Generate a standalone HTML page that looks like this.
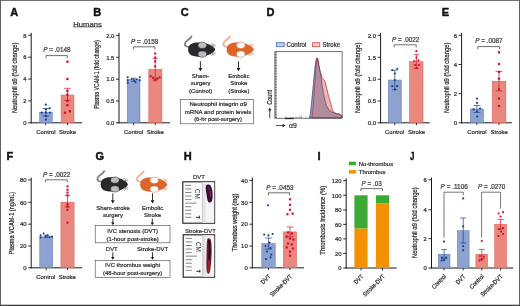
<!DOCTYPE html>
<html lang="en"><head><meta charset="utf-8"><title>Figure</title>
<style>html,body{margin:0;padding:0;background:#fff;}body{width:520px;height:306px;overflow:hidden;}svg{display:block;font-family:"Liberation Sans",sans-serif;}</style>
</head><body>
<svg width="520" height="306" viewBox="0 0 520 306">
<rect x="0" y="0" width="520" height="306" fill="#ffffff"/>
<text transform="translate(10.30,12.20) scale(1.0,1)" x="0" y="3.94" font-size="11" text-anchor="start" fill="#111" stroke="#111" stroke-width="0.45" font-weight="bold">A</text>
<text transform="translate(93.30,12.20) scale(1.0,1)" x="0" y="3.94" font-size="11" text-anchor="start" fill="#111" stroke="#111" stroke-width="0.45" font-weight="bold">B</text>
<text transform="translate(180.80,12.20) scale(1.0,1)" x="0" y="3.94" font-size="11" text-anchor="start" fill="#111" stroke="#111" stroke-width="0.45" font-weight="bold">C</text>
<text transform="translate(266.50,12.20) scale(1.0,1)" x="0" y="3.94" font-size="11" text-anchor="start" fill="#111" stroke="#111" stroke-width="0.45" font-weight="bold">D</text>
<text transform="translate(441.80,12.20) scale(1.0,1)" x="0" y="3.94" font-size="11" text-anchor="start" fill="#111" stroke="#111" stroke-width="0.45" font-weight="bold">E</text>
<text transform="translate(6.60,156.20) scale(1.0,1)" x="0" y="3.94" font-size="11" text-anchor="start" fill="#111" stroke="#111" stroke-width="0.45" font-weight="bold">F</text>
<text transform="translate(95.50,156.20) scale(1.0,1)" x="0" y="3.94" font-size="11" text-anchor="start" fill="#111" stroke="#111" stroke-width="0.45" font-weight="bold">G</text>
<text transform="translate(183.80,156.20) scale(1.0,1)" x="0" y="3.94" font-size="11" text-anchor="start" fill="#111" stroke="#111" stroke-width="0.45" font-weight="bold">H</text>
<text transform="translate(317.60,156.20) scale(1.0,1)" x="0" y="3.94" font-size="11" text-anchor="start" fill="#111" stroke="#111" stroke-width="0.45" font-weight="bold">I</text>
<text transform="translate(410.00,156.20) scale(0.72,1)" x="0" y="3.94" font-size="11" text-anchor="start" fill="#111" stroke="#111" stroke-width="0.45" font-weight="bold">J</text>
<text transform="translate(87.50,24.00) scale(1,1)" x="0" y="2.79" font-size="7.8" text-anchor="middle" fill="#333" stroke="#333" stroke-width="0.22" textLength="28.4" lengthAdjust="spacingAndGlyphs">Humans</text>
<line x1="73.20" y1="26.90" x2="102.00" y2="26.90" stroke="#333" stroke-width="0.6" stroke-linecap="butt"/>
<line x1="31.20" y1="32.80" x2="31.20" y2="123.30" stroke="#1a1a1a" stroke-width="1.0" stroke-linecap="butt"/>
<line x1="30.70" y1="122.80" x2="82.00" y2="122.80" stroke="#1a1a1a" stroke-width="1.0" stroke-linecap="butt"/>
<line x1="28.20" y1="35.30" x2="31.20" y2="35.30" stroke="#1a1a1a" stroke-width="0.9" stroke-linecap="butt"/>
<text transform="translate(26.60,35.30) scale(0.96,1)" x="0" y="2.22" font-size="6.2" text-anchor="end" fill="#2b2b2b" stroke="#2b2b2b" stroke-width="0.22">8</text>
<line x1="28.20" y1="57.20" x2="31.20" y2="57.20" stroke="#1a1a1a" stroke-width="0.9" stroke-linecap="butt"/>
<text transform="translate(26.60,57.20) scale(0.96,1)" x="0" y="2.22" font-size="6.2" text-anchor="end" fill="#2b2b2b" stroke="#2b2b2b" stroke-width="0.22">6</text>
<line x1="28.20" y1="79.10" x2="31.20" y2="79.10" stroke="#1a1a1a" stroke-width="0.9" stroke-linecap="butt"/>
<text transform="translate(26.60,79.10) scale(0.96,1)" x="0" y="2.22" font-size="6.2" text-anchor="end" fill="#2b2b2b" stroke="#2b2b2b" stroke-width="0.22">4</text>
<line x1="28.20" y1="100.90" x2="31.20" y2="100.90" stroke="#1a1a1a" stroke-width="0.9" stroke-linecap="butt"/>
<text transform="translate(26.60,100.90) scale(0.96,1)" x="0" y="2.22" font-size="6.2" text-anchor="end" fill="#2b2b2b" stroke="#2b2b2b" stroke-width="0.22">2</text>
<line x1="28.20" y1="122.80" x2="31.20" y2="122.80" stroke="#1a1a1a" stroke-width="0.9" stroke-linecap="butt"/>
<text transform="translate(26.60,122.80) scale(0.96,1)" x="0" y="2.22" font-size="6.2" text-anchor="end" fill="#2b2b2b" stroke="#2b2b2b" stroke-width="0.22">0</text>
<line x1="45.60" y1="122.80" x2="45.60" y2="125.20" stroke="#1a1a1a" stroke-width="0.9" stroke-linecap="butt"/>
<line x1="67.50" y1="122.80" x2="67.50" y2="125.20" stroke="#1a1a1a" stroke-width="0.9" stroke-linecap="butt"/>
<text transform="translate(14.80,77.80) rotate(-90) scale(1,1)" x="0" y="2.51" font-size="7.0" text-anchor="middle" fill="#2b2b2b" stroke="#2b2b2b" stroke-width="0.22" textLength="70.6" lengthAdjust="spacingAndGlyphs">Neutrophil α9 (fold change)</text>
<rect x="39.70" y="112.40" width="12.60" height="10.40" fill="#8ea2cf" stroke="#5877b8" stroke-width="0.5"/>
<rect x="61.10" y="95.00" width="12.90" height="27.80" fill="#e9897d" stroke="#de5a52" stroke-width="0.5"/>
<line x1="45.90" y1="108.60" x2="45.90" y2="116.00" stroke="#1d4190" stroke-width="0.7" stroke-linecap="butt"/>
<line x1="42.50" y1="108.60" x2="49.30" y2="108.60" stroke="#1d4190" stroke-width="0.7" stroke-linecap="butt"/>
<line x1="42.50" y1="116.00" x2="49.30" y2="116.00" stroke="#1d4190" stroke-width="0.7" stroke-linecap="butt"/>
<line x1="67.50" y1="88.30" x2="67.50" y2="100.30" stroke="#cf1233" stroke-width="0.7" stroke-linecap="butt"/>
<line x1="64.10" y1="88.30" x2="70.90" y2="88.30" stroke="#cf1233" stroke-width="0.7" stroke-linecap="butt"/>
<line x1="64.10" y1="100.30" x2="70.90" y2="100.30" stroke="#cf1233" stroke-width="0.7" stroke-linecap="butt"/>
<circle cx="45.80" cy="104.60" r="1.15" fill="#1d4190"/>
<circle cx="49.70" cy="108.30" r="1.15" fill="#1d4190"/>
<circle cx="45.80" cy="109.20" r="1.15" fill="#1d4190"/>
<circle cx="41.80" cy="112.60" r="1.15" fill="#1d4190"/>
<circle cx="46.00" cy="112.40" r="1.15" fill="#1d4190"/>
<circle cx="50.00" cy="112.60" r="1.15" fill="#1d4190"/>
<circle cx="46.00" cy="116.20" r="1.15" fill="#1d4190"/>
<circle cx="46.00" cy="119.60" r="1.15" fill="#1d4190"/>
<rect x="66.25" y="60.55" width="2.3" height="2.3" fill="#cf1233"/>
<rect x="66.25" y="77.85" width="2.3" height="2.3" fill="#cf1233"/>
<rect x="66.25" y="89.75" width="2.3" height="2.3" fill="#cf1233"/>
<rect x="66.25" y="93.45" width="2.3" height="2.3" fill="#cf1233"/>
<rect x="66.25" y="99.85" width="2.3" height="2.3" fill="#cf1233"/>
<rect x="66.25" y="104.05" width="2.3" height="2.3" fill="#cf1233"/>
<rect x="68.65" y="110.05" width="2.3" height="2.3" fill="#cf1233"/>
<rect x="63.85" y="111.55" width="2.3" height="2.3" fill="#cf1233"/>
<path d="M46.00,58.20 V55.60 H67.30 V58.20" fill="none" stroke="#333" stroke-width="0.7"/>
<text transform="translate(56.80,50.20) scale(1,1)" x="0" y="2.29" font-size="6.4" text-anchor="middle" fill="#3a3a3a" stroke="#3a3a3a" stroke-width="0.22" textLength="27.3" lengthAdjust="spacingAndGlyphs"><tspan font-style="italic">P</tspan> = .0148</text>
<text transform="translate(45.90,131.80) scale(0.96,1)" x="0" y="2.22" font-size="6.2" text-anchor="middle" fill="#2b2b2b" stroke="#2b2b2b" stroke-width="0.22">Control</text>
<text transform="translate(67.50,131.80) scale(0.96,1)" x="0" y="2.22" font-size="6.2" text-anchor="middle" fill="#2b2b2b" stroke="#2b2b2b" stroke-width="0.22">Stroke</text>
<line x1="119.00" y1="32.80" x2="119.00" y2="123.30" stroke="#1a1a1a" stroke-width="1.0" stroke-linecap="butt"/>
<line x1="118.50" y1="122.80" x2="170.00" y2="122.80" stroke="#1a1a1a" stroke-width="1.0" stroke-linecap="butt"/>
<line x1="116.00" y1="35.40" x2="119.00" y2="35.40" stroke="#1a1a1a" stroke-width="0.9" stroke-linecap="butt"/>
<text transform="translate(114.40,35.40) scale(0.96,1)" x="0" y="2.22" font-size="6.2" text-anchor="end" fill="#2b2b2b" stroke="#2b2b2b" stroke-width="0.22">2.0</text>
<line x1="116.00" y1="57.30" x2="119.00" y2="57.30" stroke="#1a1a1a" stroke-width="0.9" stroke-linecap="butt"/>
<text transform="translate(114.40,57.30) scale(0.96,1)" x="0" y="2.22" font-size="6.2" text-anchor="end" fill="#2b2b2b" stroke="#2b2b2b" stroke-width="0.22">1.5</text>
<line x1="116.00" y1="79.20" x2="119.00" y2="79.20" stroke="#1a1a1a" stroke-width="0.9" stroke-linecap="butt"/>
<text transform="translate(114.40,79.20) scale(0.96,1)" x="0" y="2.22" font-size="6.2" text-anchor="end" fill="#2b2b2b" stroke="#2b2b2b" stroke-width="0.22">1.0</text>
<line x1="116.00" y1="101.00" x2="119.00" y2="101.00" stroke="#1a1a1a" stroke-width="0.9" stroke-linecap="butt"/>
<text transform="translate(114.40,101.00) scale(0.96,1)" x="0" y="2.22" font-size="6.2" text-anchor="end" fill="#2b2b2b" stroke="#2b2b2b" stroke-width="0.22">0.5</text>
<line x1="116.00" y1="122.80" x2="119.00" y2="122.80" stroke="#1a1a1a" stroke-width="0.9" stroke-linecap="butt"/>
<text transform="translate(114.40,122.80) scale(0.96,1)" x="0" y="2.22" font-size="6.2" text-anchor="end" fill="#2b2b2b" stroke="#2b2b2b" stroke-width="0.22">0.0</text>
<line x1="133.60" y1="122.80" x2="133.60" y2="125.20" stroke="#1a1a1a" stroke-width="0.9" stroke-linecap="butt"/>
<line x1="155.30" y1="122.80" x2="155.30" y2="125.20" stroke="#1a1a1a" stroke-width="0.9" stroke-linecap="butt"/>
<text transform="translate(96.80,74.60) rotate(-90) scale(1,1)" x="0" y="2.33" font-size="6.5" text-anchor="middle" fill="#2b2b2b" stroke="#2b2b2b" stroke-width="0.22" textLength="68.5" lengthAdjust="spacingAndGlyphs">Plasma VCAM-1 (fold change)</text>
<rect x="127.20" y="79.60" width="12.80" height="43.20" fill="#8ea2cf" stroke="#5877b8" stroke-width="0.5"/>
<rect x="148.80" y="69.30" width="13.10" height="53.50" fill="#e9897d" stroke="#de5a52" stroke-width="0.5"/>
<line x1="133.60" y1="78.20" x2="133.60" y2="81.40" stroke="#1d4190" stroke-width="0.7" stroke-linecap="butt"/>
<line x1="131.20" y1="78.20" x2="136.00" y2="78.20" stroke="#1d4190" stroke-width="0.7" stroke-linecap="butt"/>
<line x1="131.20" y1="81.40" x2="136.00" y2="81.40" stroke="#1d4190" stroke-width="0.7" stroke-linecap="butt"/>
<line x1="155.20" y1="58.40" x2="155.20" y2="80.00" stroke="#cf1233" stroke-width="0.7" stroke-linecap="butt"/>
<line x1="152.60" y1="58.40" x2="157.80" y2="58.40" stroke="#cf1233" stroke-width="0.7" stroke-linecap="butt"/>
<line x1="152.60" y1="80.00" x2="157.80" y2="80.00" stroke="#cf1233" stroke-width="0.7" stroke-linecap="butt"/>
<circle cx="127.70" cy="77.30" r="1.05" fill="#1d4190"/>
<circle cx="127.70" cy="80.20" r="1.05" fill="#1d4190"/>
<circle cx="127.70" cy="82.90" r="1.05" fill="#1d4190"/>
<circle cx="139.80" cy="77.30" r="1.05" fill="#1d4190"/>
<circle cx="139.80" cy="80.20" r="1.05" fill="#1d4190"/>
<circle cx="131.80" cy="79.00" r="1.05" fill="#1d4190"/>
<circle cx="134.40" cy="80.80" r="1.05" fill="#1d4190"/>
<circle cx="136.60" cy="79.20" r="1.05" fill="#1d4190"/>
<circle cx="135.60" cy="82.20" r="1.05" fill="#1d4190"/>
<rect x="154.15" y="52.45" width="2.1" height="2.1" fill="#cf1233"/>
<rect x="154.15" y="56.45" width="2.1" height="2.1" fill="#cf1233"/>
<rect x="154.15" y="60.35" width="2.1" height="2.1" fill="#cf1233"/>
<rect x="154.15" y="65.35" width="2.1" height="2.1" fill="#cf1233"/>
<rect x="149.55" y="75.25" width="2.1" height="2.1" fill="#cf1233"/>
<rect x="158.65" y="76.45" width="2.1" height="2.1" fill="#cf1233"/>
<rect x="152.15" y="76.75" width="2.1" height="2.1" fill="#cf1233"/>
<rect x="156.15" y="77.55" width="2.1" height="2.1" fill="#cf1233"/>
<rect x="154.15" y="79.15" width="2.1" height="2.1" fill="#cf1233"/>
<path d="M133.60,49.40 V46.80 H154.80 V49.40" fill="none" stroke="#333" stroke-width="0.7"/>
<text transform="translate(144.60,41.60) scale(1,1)" x="0" y="2.29" font-size="6.4" text-anchor="middle" fill="#3a3a3a" stroke="#3a3a3a" stroke-width="0.22" textLength="27.3" lengthAdjust="spacingAndGlyphs"><tspan font-style="italic">P</tspan> = .0159</text>
<text transform="translate(133.60,131.80) scale(0.96,1)" x="0" y="2.22" font-size="6.2" text-anchor="middle" fill="#2b2b2b" stroke="#2b2b2b" stroke-width="0.22">Control</text>
<text transform="translate(155.30,131.80) scale(0.96,1)" x="0" y="2.22" font-size="6.2" text-anchor="middle" fill="#2b2b2b" stroke="#2b2b2b" stroke-width="0.22">Stroke</text>
<path d="M189.70,47.00 C187.20,46.80 184.10,46.40 185.10,43.20 C186.10,40.00 190.30,39.60 191.50,36.40" fill="none" stroke="#858588" stroke-width="1.9" stroke-linecap="round"/><path d="M188.10,49.60 C188.10,42.20 196.70,42.00 202.70,42.80 C208.20,43.60 214.10,46.20 215.30,49.60 C214.10,53.00 208.20,55.60 202.70,56.40 C196.70,57.20 188.10,57.00 188.10,49.60 Z" fill="#29292b"/><ellipse cx="202.30" cy="45.30" rx="4.3" ry="3.1" fill="#bdbdbf" stroke="#29292b" stroke-width="0.5"/><ellipse cx="202.30" cy="54.10" rx="4.3" ry="3.1" fill="#bdbdbf" stroke="#29292b" stroke-width="0.5"/><path d="M211.90,46.40 l3.4,-1.80 M211.90,46.40 l2.4,-3.00 M211.90,46.40 l4.0,-0.40" stroke="#666" stroke-width="0.45" fill="none"/><circle cx="211.70" cy="44.60" r="1.0" fill="#fff" stroke="#666" stroke-width="0.45"/><path d="M211.90,52.80 l3.4,1.80 M211.90,52.80 l2.4,3.00 M211.90,52.80 l4.0,0.40" stroke="#666" stroke-width="0.45" fill="none"/><circle cx="211.70" cy="54.60" r="1.0" fill="#fff" stroke="#666" stroke-width="0.45"/>
<path d="M228.20,47.00 C225.70,46.80 222.60,46.40 223.60,43.20 C224.60,40.00 228.80,39.60 230.00,36.40" fill="none" stroke="#f0b596" stroke-width="1.9" stroke-linecap="round"/><path d="M226.60,49.60 C226.60,42.20 235.20,42.00 241.20,42.80 C246.70,43.60 252.60,46.20 253.80,49.60 C252.60,53.00 246.70,55.60 241.20,56.40 C235.20,57.20 226.60,57.00 226.60,49.60 Z" fill="#dc652b"/><ellipse cx="240.80" cy="45.30" rx="4.3" ry="3.1" fill="#ffffff" stroke="#dc652b" stroke-width="0.5"/><ellipse cx="240.80" cy="54.10" rx="4.3" ry="3.1" fill="#ffffff" stroke="#dc652b" stroke-width="0.5"/><path d="M250.40,46.40 l3.4,-1.80 M250.40,46.40 l2.4,-3.00 M250.40,46.40 l4.0,-0.40" stroke="#e58a5a" stroke-width="0.45" fill="none"/><circle cx="250.20" cy="44.60" r="1.0" fill="#fff" stroke="#e58a5a" stroke-width="0.45"/><path d="M250.40,52.80 l3.4,1.80 M250.40,52.80 l2.4,3.00 M250.40,52.80 l4.0,0.40" stroke="#e58a5a" stroke-width="0.45" fill="none"/><circle cx="250.20" cy="54.60" r="1.0" fill="#fff" stroke="#e58a5a" stroke-width="0.45"/>
<line x1="200.40" y1="61.20" x2="200.40" y2="68.60" stroke="#1a1a1a" stroke-width="0.9" stroke-linecap="butt"/>
<path d="M198.50,68.10 L202.30,68.10 L200.40,71.30 Z" fill="#1a1a1a"/>
<line x1="238.50" y1="61.20" x2="238.50" y2="68.60" stroke="#1a1a1a" stroke-width="0.9" stroke-linecap="butt"/>
<path d="M236.60,68.10 L240.40,68.10 L238.50,71.30 Z" fill="#1a1a1a"/>
<text transform="translate(200.60,75.40) scale(0.96,1)" x="0" y="2.22" font-size="6.2" text-anchor="middle" fill="#2b2b2b" stroke="#2b2b2b" stroke-width="0.22">Sham-</text>
<text transform="translate(200.60,82.80) scale(0.96,1)" x="0" y="2.22" font-size="6.2" text-anchor="middle" fill="#2b2b2b" stroke="#2b2b2b" stroke-width="0.22">surgery</text>
<text transform="translate(200.60,90.30) scale(0.96,1)" x="0" y="2.22" font-size="6.2" text-anchor="middle" fill="#2b2b2b" stroke="#2b2b2b" stroke-width="0.22">(Control)</text>
<text transform="translate(238.80,75.40) scale(0.96,1)" x="0" y="2.22" font-size="6.2" text-anchor="middle" fill="#2b2b2b" stroke="#2b2b2b" stroke-width="0.22">Embolic</text>
<text transform="translate(238.80,82.80) scale(0.96,1)" x="0" y="2.22" font-size="6.2" text-anchor="middle" fill="#2b2b2b" stroke="#2b2b2b" stroke-width="0.22">Stroke</text>
<text transform="translate(238.80,90.30) scale(0.96,1)" x="0" y="2.22" font-size="6.2" text-anchor="middle" fill="#2b2b2b" stroke="#2b2b2b" stroke-width="0.22">(Stroke)</text>
<rect x="180.30" y="99.50" width="73.30" height="24.30" fill="#fff" stroke="#444" stroke-width="0.6"/>
<text transform="translate(218.20,104.20) scale(1,1)" x="0" y="2.22" font-size="6.2" text-anchor="middle" fill="#2b2b2b" stroke="#2b2b2b" stroke-width="0.22" textLength="57.4" lengthAdjust="spacingAndGlyphs">Neutrophil integrin α9</text>
<text transform="translate(218.00,111.70) scale(1,1)" x="0" y="2.22" font-size="6.2" text-anchor="middle" fill="#2b2b2b" stroke="#2b2b2b" stroke-width="0.22" textLength="66.4" lengthAdjust="spacingAndGlyphs">mRNA and protein levels</text>
<text transform="translate(218.00,119.20) scale(1,1)" x="0" y="2.22" font-size="6.2" text-anchor="middle" fill="#2b2b2b" stroke="#2b2b2b" stroke-width="0.22" textLength="47.6" lengthAdjust="spacingAndGlyphs">(6-hr post-surgery)</text>
<rect x="276.40" y="42.70" width="7.80" height="4.00" fill="#c3cee9" stroke="#4a6db8" stroke-width="0.8"/>
<text transform="translate(286.60,44.60) scale(1,1)" x="0" y="2.43" font-size="6.8" text-anchor="start" fill="#2b2b2b" stroke="#2b2b2b" stroke-width="0.22" textLength="19.6" lengthAdjust="spacingAndGlyphs">Control</text>
<rect x="312.40" y="42.70" width="7.40" height="4.00" fill="#f8c9c8" stroke="#dc4a52" stroke-width="0.8"/>
<text transform="translate(322.60,44.60) scale(1,1)" x="0" y="2.43" font-size="6.8" text-anchor="start" fill="#2b2b2b" stroke="#2b2b2b" stroke-width="0.22" textLength="17.4" lengthAdjust="spacingAndGlyphs">Stroke</text>
<rect x="274.90" y="51.70" width="67.20" height="66.50" fill="#fff" stroke="#333" stroke-width="0.7"/>
<line x1="275.10" y1="52.80" x2="276.80" y2="52.80" stroke="#222" stroke-width="0.7" stroke-linecap="butt"/>
<line x1="275.10" y1="54.38" x2="276.80" y2="54.38" stroke="#222" stroke-width="0.7" stroke-linecap="butt"/>
<line x1="275.10" y1="55.96" x2="276.80" y2="55.96" stroke="#222" stroke-width="0.7" stroke-linecap="butt"/>
<line x1="275.10" y1="57.54" x2="276.80" y2="57.54" stroke="#222" stroke-width="0.7" stroke-linecap="butt"/>
<line x1="275.10" y1="59.12" x2="276.80" y2="59.12" stroke="#222" stroke-width="0.7" stroke-linecap="butt"/>
<line x1="275.10" y1="60.70" x2="276.80" y2="60.70" stroke="#222" stroke-width="0.7" stroke-linecap="butt"/>
<line x1="275.10" y1="62.28" x2="276.80" y2="62.28" stroke="#222" stroke-width="0.7" stroke-linecap="butt"/>
<line x1="275.10" y1="63.86" x2="276.80" y2="63.86" stroke="#222" stroke-width="0.7" stroke-linecap="butt"/>
<line x1="275.10" y1="65.44" x2="276.80" y2="65.44" stroke="#222" stroke-width="0.7" stroke-linecap="butt"/>
<line x1="275.10" y1="67.02" x2="276.80" y2="67.02" stroke="#222" stroke-width="0.7" stroke-linecap="butt"/>
<line x1="275.10" y1="68.60" x2="276.80" y2="68.60" stroke="#222" stroke-width="0.7" stroke-linecap="butt"/>
<line x1="275.10" y1="70.18" x2="276.80" y2="70.18" stroke="#222" stroke-width="0.7" stroke-linecap="butt"/>
<line x1="275.10" y1="71.76" x2="276.80" y2="71.76" stroke="#222" stroke-width="0.7" stroke-linecap="butt"/>
<line x1="275.10" y1="73.34" x2="276.80" y2="73.34" stroke="#222" stroke-width="0.7" stroke-linecap="butt"/>
<line x1="275.10" y1="74.92" x2="276.80" y2="74.92" stroke="#222" stroke-width="0.7" stroke-linecap="butt"/>
<line x1="275.10" y1="76.50" x2="276.80" y2="76.50" stroke="#222" stroke-width="0.7" stroke-linecap="butt"/>
<line x1="275.10" y1="78.08" x2="276.80" y2="78.08" stroke="#222" stroke-width="0.7" stroke-linecap="butt"/>
<line x1="275.10" y1="79.66" x2="276.80" y2="79.66" stroke="#222" stroke-width="0.7" stroke-linecap="butt"/>
<line x1="275.10" y1="81.24" x2="276.80" y2="81.24" stroke="#222" stroke-width="0.7" stroke-linecap="butt"/>
<line x1="275.10" y1="82.82" x2="276.80" y2="82.82" stroke="#222" stroke-width="0.7" stroke-linecap="butt"/>
<line x1="275.10" y1="84.40" x2="276.80" y2="84.40" stroke="#222" stroke-width="0.7" stroke-linecap="butt"/>
<line x1="275.10" y1="85.98" x2="276.80" y2="85.98" stroke="#222" stroke-width="0.7" stroke-linecap="butt"/>
<line x1="275.10" y1="87.56" x2="276.80" y2="87.56" stroke="#222" stroke-width="0.7" stroke-linecap="butt"/>
<line x1="275.10" y1="89.14" x2="276.80" y2="89.14" stroke="#222" stroke-width="0.7" stroke-linecap="butt"/>
<line x1="275.10" y1="90.72" x2="276.80" y2="90.72" stroke="#222" stroke-width="0.7" stroke-linecap="butt"/>
<line x1="275.10" y1="92.30" x2="276.80" y2="92.30" stroke="#222" stroke-width="0.7" stroke-linecap="butt"/>
<line x1="275.10" y1="93.88" x2="276.80" y2="93.88" stroke="#222" stroke-width="0.7" stroke-linecap="butt"/>
<line x1="275.10" y1="95.46" x2="276.80" y2="95.46" stroke="#222" stroke-width="0.7" stroke-linecap="butt"/>
<line x1="275.10" y1="97.04" x2="276.80" y2="97.04" stroke="#222" stroke-width="0.7" stroke-linecap="butt"/>
<line x1="275.10" y1="98.62" x2="276.80" y2="98.62" stroke="#222" stroke-width="0.7" stroke-linecap="butt"/>
<line x1="275.10" y1="100.20" x2="276.80" y2="100.20" stroke="#222" stroke-width="0.7" stroke-linecap="butt"/>
<line x1="275.10" y1="101.78" x2="276.80" y2="101.78" stroke="#222" stroke-width="0.7" stroke-linecap="butt"/>
<line x1="275.10" y1="103.36" x2="276.80" y2="103.36" stroke="#222" stroke-width="0.7" stroke-linecap="butt"/>
<line x1="275.10" y1="104.94" x2="276.80" y2="104.94" stroke="#222" stroke-width="0.7" stroke-linecap="butt"/>
<line x1="275.10" y1="106.52" x2="276.80" y2="106.52" stroke="#222" stroke-width="0.7" stroke-linecap="butt"/>
<line x1="275.10" y1="108.10" x2="276.80" y2="108.10" stroke="#222" stroke-width="0.7" stroke-linecap="butt"/>
<line x1="275.10" y1="109.68" x2="276.80" y2="109.68" stroke="#222" stroke-width="0.7" stroke-linecap="butt"/>
<line x1="275.10" y1="111.26" x2="276.80" y2="111.26" stroke="#222" stroke-width="0.7" stroke-linecap="butt"/>
<line x1="275.10" y1="112.84" x2="276.80" y2="112.84" stroke="#222" stroke-width="0.7" stroke-linecap="butt"/>
<line x1="275.10" y1="114.42" x2="276.80" y2="114.42" stroke="#222" stroke-width="0.7" stroke-linecap="butt"/>
<line x1="275.10" y1="116.00" x2="276.80" y2="116.00" stroke="#222" stroke-width="0.7" stroke-linecap="butt"/>
<line x1="275.10" y1="117.58" x2="276.80" y2="117.58" stroke="#222" stroke-width="0.7" stroke-linecap="butt"/>
<line x1="286.00" y1="118.00" x2="286.00" y2="115.80" stroke="#444" stroke-width="0.4" stroke-linecap="butt"/>
<line x1="290.67" y1="118.00" x2="290.67" y2="116.80" stroke="#444" stroke-width="0.4" stroke-linecap="butt"/>
<line x1="293.40" y1="118.00" x2="293.40" y2="116.80" stroke="#444" stroke-width="0.4" stroke-linecap="butt"/>
<line x1="295.33" y1="118.00" x2="295.33" y2="116.80" stroke="#444" stroke-width="0.4" stroke-linecap="butt"/>
<line x1="296.83" y1="118.00" x2="296.83" y2="116.80" stroke="#444" stroke-width="0.4" stroke-linecap="butt"/>
<line x1="298.06" y1="118.00" x2="298.06" y2="116.80" stroke="#444" stroke-width="0.4" stroke-linecap="butt"/>
<line x1="299.10" y1="118.00" x2="299.10" y2="116.80" stroke="#444" stroke-width="0.4" stroke-linecap="butt"/>
<line x1="300.00" y1="118.00" x2="300.00" y2="116.80" stroke="#444" stroke-width="0.4" stroke-linecap="butt"/>
<line x1="300.79" y1="118.00" x2="300.79" y2="116.80" stroke="#444" stroke-width="0.4" stroke-linecap="butt"/>
<line x1="301.50" y1="118.00" x2="301.50" y2="115.80" stroke="#444" stroke-width="0.4" stroke-linecap="butt"/>
<line x1="306.17" y1="118.00" x2="306.17" y2="116.80" stroke="#444" stroke-width="0.4" stroke-linecap="butt"/>
<line x1="308.90" y1="118.00" x2="308.90" y2="116.80" stroke="#444" stroke-width="0.4" stroke-linecap="butt"/>
<line x1="310.83" y1="118.00" x2="310.83" y2="116.80" stroke="#444" stroke-width="0.4" stroke-linecap="butt"/>
<line x1="312.33" y1="118.00" x2="312.33" y2="116.80" stroke="#444" stroke-width="0.4" stroke-linecap="butt"/>
<line x1="313.56" y1="118.00" x2="313.56" y2="116.80" stroke="#444" stroke-width="0.4" stroke-linecap="butt"/>
<line x1="314.60" y1="118.00" x2="314.60" y2="116.80" stroke="#444" stroke-width="0.4" stroke-linecap="butt"/>
<line x1="315.50" y1="118.00" x2="315.50" y2="116.80" stroke="#444" stroke-width="0.4" stroke-linecap="butt"/>
<line x1="316.29" y1="118.00" x2="316.29" y2="116.80" stroke="#444" stroke-width="0.4" stroke-linecap="butt"/>
<line x1="317.00" y1="118.00" x2="317.00" y2="115.80" stroke="#444" stroke-width="0.4" stroke-linecap="butt"/>
<line x1="321.67" y1="118.00" x2="321.67" y2="116.80" stroke="#444" stroke-width="0.4" stroke-linecap="butt"/>
<line x1="324.40" y1="118.00" x2="324.40" y2="116.80" stroke="#444" stroke-width="0.4" stroke-linecap="butt"/>
<line x1="326.33" y1="118.00" x2="326.33" y2="116.80" stroke="#444" stroke-width="0.4" stroke-linecap="butt"/>
<line x1="327.83" y1="118.00" x2="327.83" y2="116.80" stroke="#444" stroke-width="0.4" stroke-linecap="butt"/>
<line x1="329.06" y1="118.00" x2="329.06" y2="116.80" stroke="#444" stroke-width="0.4" stroke-linecap="butt"/>
<line x1="330.10" y1="118.00" x2="330.10" y2="116.80" stroke="#444" stroke-width="0.4" stroke-linecap="butt"/>
<line x1="331.00" y1="118.00" x2="331.00" y2="116.80" stroke="#444" stroke-width="0.4" stroke-linecap="butt"/>
<line x1="331.79" y1="118.00" x2="331.79" y2="116.80" stroke="#444" stroke-width="0.4" stroke-linecap="butt"/>
<line x1="332.50" y1="118.00" x2="332.50" y2="115.80" stroke="#444" stroke-width="0.4" stroke-linecap="butt"/>
<line x1="337.17" y1="118.00" x2="337.17" y2="116.80" stroke="#444" stroke-width="0.4" stroke-linecap="butt"/>
<line x1="339.90" y1="118.00" x2="339.90" y2="116.80" stroke="#444" stroke-width="0.4" stroke-linecap="butt"/>
<line x1="285.00" y1="118.50" x2="293.60" y2="118.50" stroke="#222" stroke-width="1.3" stroke-linecap="butt"/>
<g transform="translate(0,57.8) scale(1,1.0135) translate(0,-57.8)">
<path d="M309.6,117 L310.6,112 L311.4,104 L312.4,94 L313.4,84 L314.4,73 L315.4,64 L316.3,59.4 L316.9,58 L317.6,59.6 L318.4,64 L319.2,68 L320.0,71.4 L320.9,74.2 L321.4,79 L322.0,85.3 L322.8,89 L323.4,93 L324.2,96.4 L325.0,100 L325.8,102.6 L326.4,105.3 L327.4,106.4 L328.2,108.6 L329.0,108.8 L329.8,110.2 L331.0,110.6 L332.0,111.8 L333.4,111.4 L334.6,112.8 L336.0,112.4 L337.4,113.4 L338.8,113.0 L340.0,114.2 L341.8,115.0 L341.8,117 Z" fill="#a5b1d4" stroke="#4f8fa8" stroke-width="0.6" stroke-linejoin="round"/>
<path d="M312.0,117 L312.8,110 L313.6,100 L314.4,89 L315.2,78 L316.0,67 L316.8,60 L317.4,57.8 L318.2,60 L319.0,65 L319.8,69.6 L320.6,73 L321.4,75.4 L322.2,77.4 L323.1,78.7 L324.2,79.8 L325.3,82 L326.0,85 L326.8,88.4 L327.6,91.6 L328.2,94.2 L329.0,97 L330.0,100.2 L330.9,103.1 L331.6,106 L332.4,108.6 L333.1,110.9 L334.2,112.2 L335.6,112.4 L337.0,113.2 L338.6,113.0 L340.2,114.0 L341.8,114.4 L341.8,117 Z" fill="#e58a86" fill-opacity="0.62" stroke="#c41f38" stroke-width="0.7" stroke-linejoin="round"/>
<path d="M309.6,117 L310.6,112 L311.4,104 L312.4,94 L313.4,84 L314.4,73 L315.4,64 L316.3,59.4 L316.9,58 L317.6,59.6 L318.4,64 L319.2,68 L320.0,71.4 L320.9,74.2 L321.4,79 L322.0,85.3 L322.8,89 L323.4,93 L324.2,96.4 L325.0,100 L325.8,102.6 L326.4,105.3 L327.4,106.4 L328.2,108.6 L329.0,108.8 L329.8,110.2 L331.0,110.6 L332.0,111.8 L333.4,111.4 L334.6,112.8 L336.0,112.4 L337.4,113.4 L338.8,113.0 L340.0,114.2 L341.8,115.0 L341.8,117 Z" fill="#6d6d8c" fill-opacity="0.28" stroke="#3a3550" stroke-opacity="0.85" stroke-width="0.55" stroke-linejoin="round"/>
</g>
<text transform="translate(269.80,97.40) rotate(-90) scale(1,1)" x="0" y="2.43" font-size="6.8" text-anchor="middle" fill="#2b2b2b" stroke="#2b2b2b" stroke-width="0.22" textLength="14.8" lengthAdjust="spacingAndGlyphs">Count</text>
<line x1="269.80" y1="118.00" x2="269.80" y2="110.00" stroke="#1a1a1a" stroke-width="0.8" stroke-linecap="butt"/>
<path d="M268.2,110.6 L271.4,110.6 L269.8,107.4 Z" fill="#1a1a1a"/>
<line x1="276.00" y1="125.60" x2="283.20" y2="125.60" stroke="#1a1a1a" stroke-width="0.8" stroke-linecap="butt"/>
<path d="M282.6,124.0 L282.6,127.2 L285.6,125.6 Z" fill="#1a1a1a"/>
<text transform="translate(289.00,125.40) scale(0.9,1)" x="0" y="2.72" font-size="7.6" text-anchor="start" fill="#2b2b2b" stroke="#2b2b2b" stroke-width="0.22">α9</text>
<line x1="380.60" y1="32.80" x2="380.60" y2="123.30" stroke="#1a1a1a" stroke-width="1.0" stroke-linecap="butt"/>
<line x1="380.10" y1="122.80" x2="429.80" y2="122.80" stroke="#1a1a1a" stroke-width="1.0" stroke-linecap="butt"/>
<line x1="377.60" y1="35.40" x2="380.60" y2="35.40" stroke="#1a1a1a" stroke-width="0.9" stroke-linecap="butt"/>
<text transform="translate(376.00,35.40) scale(0.96,1)" x="0" y="2.22" font-size="6.2" text-anchor="end" fill="#2b2b2b" stroke="#2b2b2b" stroke-width="0.22">2.0</text>
<line x1="377.60" y1="57.30" x2="380.60" y2="57.30" stroke="#1a1a1a" stroke-width="0.9" stroke-linecap="butt"/>
<text transform="translate(376.00,57.30) scale(0.96,1)" x="0" y="2.22" font-size="6.2" text-anchor="end" fill="#2b2b2b" stroke="#2b2b2b" stroke-width="0.22">1.5</text>
<line x1="377.60" y1="79.20" x2="380.60" y2="79.20" stroke="#1a1a1a" stroke-width="0.9" stroke-linecap="butt"/>
<text transform="translate(376.00,79.20) scale(0.96,1)" x="0" y="2.22" font-size="6.2" text-anchor="end" fill="#2b2b2b" stroke="#2b2b2b" stroke-width="0.22">1.0</text>
<line x1="377.60" y1="101.00" x2="380.60" y2="101.00" stroke="#1a1a1a" stroke-width="0.9" stroke-linecap="butt"/>
<text transform="translate(376.00,101.00) scale(0.96,1)" x="0" y="2.22" font-size="6.2" text-anchor="end" fill="#2b2b2b" stroke="#2b2b2b" stroke-width="0.22">0.5</text>
<line x1="377.60" y1="122.80" x2="380.60" y2="122.80" stroke="#1a1a1a" stroke-width="0.9" stroke-linecap="butt"/>
<text transform="translate(376.00,122.80) scale(0.96,1)" x="0" y="2.22" font-size="6.2" text-anchor="end" fill="#2b2b2b" stroke="#2b2b2b" stroke-width="0.22">0.0</text>
<line x1="394.80" y1="122.80" x2="394.80" y2="125.20" stroke="#1a1a1a" stroke-width="0.9" stroke-linecap="butt"/>
<line x1="416.40" y1="122.80" x2="416.40" y2="125.20" stroke="#1a1a1a" stroke-width="0.9" stroke-linecap="butt"/>
<text transform="translate(357.70,77.80) rotate(-90) scale(1,1)" x="0" y="2.51" font-size="7.0" text-anchor="middle" fill="#2b2b2b" stroke="#2b2b2b" stroke-width="0.22" textLength="70.4" lengthAdjust="spacingAndGlyphs">Neutrophil α9 (fold change)</text>
<rect x="388.30" y="80.00" width="13.10" height="42.80" fill="#8ea2cf" stroke="#5877b8" stroke-width="0.5"/>
<rect x="409.60" y="61.60" width="13.40" height="61.20" fill="#e9897d" stroke="#de5a52" stroke-width="0.5"/>
<line x1="394.80" y1="70.20" x2="394.80" y2="89.60" stroke="#1d4190" stroke-width="0.7" stroke-linecap="butt"/>
<line x1="392.20" y1="70.20" x2="397.40" y2="70.20" stroke="#1d4190" stroke-width="0.7" stroke-linecap="butt"/>
<line x1="392.20" y1="89.60" x2="397.40" y2="89.60" stroke="#1d4190" stroke-width="0.7" stroke-linecap="butt"/>
<line x1="416.40" y1="54.60" x2="416.40" y2="68.40" stroke="#cf1233" stroke-width="0.7" stroke-linecap="butt"/>
<line x1="413.80" y1="54.60" x2="419.00" y2="54.60" stroke="#cf1233" stroke-width="0.7" stroke-linecap="butt"/>
<line x1="413.80" y1="68.40" x2="419.00" y2="68.40" stroke="#cf1233" stroke-width="0.7" stroke-linecap="butt"/>
<circle cx="392.20" cy="70.20" r="1.1" fill="#1d4190"/>
<circle cx="397.30" cy="68.80" r="1.1" fill="#1d4190"/>
<circle cx="394.80" cy="73.50" r="1.1" fill="#1d4190"/>
<circle cx="394.80" cy="80.00" r="1.1" fill="#1d4190"/>
<circle cx="392.20" cy="86.20" r="1.1" fill="#1d4190"/>
<circle cx="397.20" cy="86.20" r="1.1" fill="#1d4190"/>
<circle cx="394.80" cy="89.40" r="1.1" fill="#1d4190"/>
<circle cx="416.40" cy="51.20" r="1.1" fill="#cf1233"/>
<circle cx="416.40" cy="57.50" r="1.1" fill="#cf1233"/>
<circle cx="418.40" cy="60.40" r="1.1" fill="#cf1233"/>
<circle cx="414.20" cy="61.00" r="1.1" fill="#cf1233"/>
<circle cx="415.00" cy="65.00" r="1.1" fill="#cf1233"/>
<circle cx="419.00" cy="65.00" r="1.1" fill="#cf1233"/>
<circle cx="416.40" cy="68.20" r="1.1" fill="#cf1233"/>
<path d="M394.20,47.40 V44.80 H416.20 V47.40" fill="none" stroke="#333" stroke-width="0.7"/>
<text transform="translate(405.60,39.80) scale(1,1)" x="0" y="2.29" font-size="6.4" text-anchor="middle" fill="#3a3a3a" stroke="#3a3a3a" stroke-width="0.22" textLength="27.3" lengthAdjust="spacingAndGlyphs"><tspan font-style="italic">P</tspan> = .0022</text>
<text transform="translate(394.60,131.80) scale(0.96,1)" x="0" y="2.22" font-size="6.2" text-anchor="middle" fill="#2b2b2b" stroke="#2b2b2b" stroke-width="0.22">Control</text>
<text transform="translate(416.60,131.80) scale(0.96,1)" x="0" y="2.22" font-size="6.2" text-anchor="middle" fill="#2b2b2b" stroke="#2b2b2b" stroke-width="0.22">Stroke</text>
<line x1="461.60" y1="32.80" x2="461.60" y2="123.30" stroke="#1a1a1a" stroke-width="1.0" stroke-linecap="butt"/>
<line x1="461.10" y1="122.80" x2="512.00" y2="122.80" stroke="#1a1a1a" stroke-width="1.0" stroke-linecap="butt"/>
<line x1="458.60" y1="35.30" x2="461.60" y2="35.30" stroke="#1a1a1a" stroke-width="0.9" stroke-linecap="butt"/>
<text transform="translate(457.00,35.30) scale(0.96,1)" x="0" y="2.22" font-size="6.2" text-anchor="end" fill="#2b2b2b" stroke="#2b2b2b" stroke-width="0.22">6</text>
<line x1="458.60" y1="64.50" x2="461.60" y2="64.50" stroke="#1a1a1a" stroke-width="0.9" stroke-linecap="butt"/>
<text transform="translate(457.00,64.50) scale(0.96,1)" x="0" y="2.22" font-size="6.2" text-anchor="end" fill="#2b2b2b" stroke="#2b2b2b" stroke-width="0.22">4</text>
<line x1="458.60" y1="93.60" x2="461.60" y2="93.60" stroke="#1a1a1a" stroke-width="0.9" stroke-linecap="butt"/>
<text transform="translate(457.00,93.60) scale(0.96,1)" x="0" y="2.22" font-size="6.2" text-anchor="end" fill="#2b2b2b" stroke="#2b2b2b" stroke-width="0.22">2</text>
<line x1="458.60" y1="122.80" x2="461.60" y2="122.80" stroke="#1a1a1a" stroke-width="0.9" stroke-linecap="butt"/>
<text transform="translate(457.00,122.80) scale(0.96,1)" x="0" y="2.22" font-size="6.2" text-anchor="end" fill="#2b2b2b" stroke="#2b2b2b" stroke-width="0.22">0</text>
<line x1="476.90" y1="122.80" x2="476.90" y2="125.20" stroke="#1a1a1a" stroke-width="0.9" stroke-linecap="butt"/>
<line x1="499.00" y1="122.80" x2="499.00" y2="125.20" stroke="#1a1a1a" stroke-width="0.9" stroke-linecap="butt"/>
<text transform="translate(446.80,77.80) rotate(-90) scale(1,1)" x="0" y="2.51" font-size="7.0" text-anchor="middle" fill="#2b2b2b" stroke="#2b2b2b" stroke-width="0.22" textLength="70.4" lengthAdjust="spacingAndGlyphs">Neutrophil α9 (fold change)</text>
<rect x="470.30" y="109.00" width="13.20" height="13.80" fill="#8ea2cf" stroke="#5877b8" stroke-width="0.5"/>
<rect x="492.20" y="81.20" width="13.70" height="41.60" fill="#e9897d" stroke="#de5a52" stroke-width="0.5"/>
<line x1="476.90" y1="105.40" x2="476.90" y2="112.40" stroke="#1d4190" stroke-width="0.7" stroke-linecap="butt"/>
<line x1="473.50" y1="105.40" x2="480.30" y2="105.40" stroke="#1d4190" stroke-width="0.7" stroke-linecap="butt"/>
<line x1="473.50" y1="112.40" x2="480.30" y2="112.40" stroke="#1d4190" stroke-width="0.7" stroke-linecap="butt"/>
<line x1="499.00" y1="71.40" x2="499.00" y2="90.80" stroke="#cf1233" stroke-width="0.7" stroke-linecap="butt"/>
<line x1="495.60" y1="71.40" x2="502.40" y2="71.40" stroke="#cf1233" stroke-width="0.7" stroke-linecap="butt"/>
<line x1="495.60" y1="90.80" x2="502.40" y2="90.80" stroke="#cf1233" stroke-width="0.7" stroke-linecap="butt"/>
<circle cx="477.00" cy="98.60" r="1.15" fill="#1d4190"/>
<circle cx="477.00" cy="102.80" r="1.15" fill="#1d4190"/>
<circle cx="473.60" cy="109.40" r="1.15" fill="#1d4190"/>
<circle cx="480.00" cy="108.60" r="1.15" fill="#1d4190"/>
<circle cx="477.00" cy="111.60" r="1.15" fill="#1d4190"/>
<circle cx="477.20" cy="116.60" r="1.15" fill="#1d4190"/>
<rect x="497.90" y="51.20" width="2.2" height="2.2" fill="#cf1233"/>
<rect x="497.90" y="62.90" width="2.2" height="2.2" fill="#cf1233"/>
<rect x="497.90" y="70.90" width="2.2" height="2.2" fill="#cf1233"/>
<rect x="497.90" y="77.60" width="2.2" height="2.2" fill="#cf1233"/>
<rect x="497.90" y="88.30" width="2.2" height="2.2" fill="#cf1233"/>
<rect x="497.90" y="97.50" width="2.2" height="2.2" fill="#cf1233"/>
<rect x="497.90" y="104.90" width="2.2" height="2.2" fill="#cf1233"/>
<path d="M477.80,49.20 V46.60 H499.60 V49.20" fill="none" stroke="#333" stroke-width="0.7"/>
<text transform="translate(489.00,40.60) scale(1,1)" x="0" y="2.29" font-size="6.4" text-anchor="middle" fill="#3a3a3a" stroke="#3a3a3a" stroke-width="0.22" textLength="27.3" lengthAdjust="spacingAndGlyphs"><tspan font-style="italic">P</tspan> = .0087</text>
<text transform="translate(476.90,131.80) scale(0.96,1)" x="0" y="2.22" font-size="6.2" text-anchor="middle" fill="#2b2b2b" stroke="#2b2b2b" stroke-width="0.22">Control</text>
<text transform="translate(499.20,131.80) scale(0.96,1)" x="0" y="2.22" font-size="6.2" text-anchor="middle" fill="#2b2b2b" stroke="#2b2b2b" stroke-width="0.22">Stroke</text>
<line x1="31.20" y1="177.60" x2="31.20" y2="268.30" stroke="#1a1a1a" stroke-width="1.0" stroke-linecap="butt"/>
<line x1="30.70" y1="267.80" x2="82.00" y2="267.80" stroke="#1a1a1a" stroke-width="1.0" stroke-linecap="butt"/>
<line x1="28.20" y1="179.90" x2="31.20" y2="179.90" stroke="#1a1a1a" stroke-width="0.9" stroke-linecap="butt"/>
<text transform="translate(26.60,179.90) scale(0.96,1)" x="0" y="2.22" font-size="6.2" text-anchor="end" fill="#2b2b2b" stroke="#2b2b2b" stroke-width="0.22">80</text>
<line x1="28.20" y1="202.30" x2="31.20" y2="202.30" stroke="#1a1a1a" stroke-width="0.9" stroke-linecap="butt"/>
<text transform="translate(26.60,202.30) scale(0.96,1)" x="0" y="2.22" font-size="6.2" text-anchor="end" fill="#2b2b2b" stroke="#2b2b2b" stroke-width="0.22">60</text>
<line x1="28.20" y1="224.20" x2="31.20" y2="224.20" stroke="#1a1a1a" stroke-width="0.9" stroke-linecap="butt"/>
<text transform="translate(26.60,224.20) scale(0.96,1)" x="0" y="2.22" font-size="6.2" text-anchor="end" fill="#2b2b2b" stroke="#2b2b2b" stroke-width="0.22">40</text>
<line x1="28.20" y1="246.00" x2="31.20" y2="246.00" stroke="#1a1a1a" stroke-width="0.9" stroke-linecap="butt"/>
<text transform="translate(26.60,246.00) scale(0.96,1)" x="0" y="2.22" font-size="6.2" text-anchor="end" fill="#2b2b2b" stroke="#2b2b2b" stroke-width="0.22">20</text>
<line x1="28.20" y1="267.80" x2="31.20" y2="267.80" stroke="#1a1a1a" stroke-width="0.9" stroke-linecap="butt"/>
<text transform="translate(26.60,267.80) scale(0.96,1)" x="0" y="2.22" font-size="6.2" text-anchor="end" fill="#2b2b2b" stroke="#2b2b2b" stroke-width="0.22">0</text>
<line x1="46.20" y1="267.80" x2="46.20" y2="270.20" stroke="#1a1a1a" stroke-width="0.9" stroke-linecap="butt"/>
<line x1="67.50" y1="267.80" x2="67.50" y2="270.20" stroke="#1a1a1a" stroke-width="0.9" stroke-linecap="butt"/>
<text transform="translate(11.40,223.00) rotate(-90) scale(1,1)" x="0" y="2.51" font-size="7.0" text-anchor="middle" fill="#2b2b2b" stroke="#2b2b2b" stroke-width="0.22" textLength="62.4" lengthAdjust="spacingAndGlyphs">Plasma VCAM-1 (ng/mL)</text>
<rect x="39.80" y="236.80" width="12.90" height="31.00" fill="#8ea2cf" stroke="#5877b8" stroke-width="0.5"/>
<rect x="60.90" y="202.20" width="13.20" height="65.60" fill="#e9897d" stroke="#de5a52" stroke-width="0.5"/>
<line x1="46.20" y1="235.20" x2="46.20" y2="237.60" stroke="#1d4190" stroke-width="0.7" stroke-linecap="butt"/>
<line x1="43.80" y1="235.20" x2="48.60" y2="235.20" stroke="#1d4190" stroke-width="0.7" stroke-linecap="butt"/>
<line x1="43.80" y1="237.60" x2="48.60" y2="237.60" stroke="#1d4190" stroke-width="0.7" stroke-linecap="butt"/>
<line x1="67.50" y1="195.40" x2="67.50" y2="206.80" stroke="#cf1233" stroke-width="0.7" stroke-linecap="butt"/>
<line x1="64.70" y1="195.40" x2="70.30" y2="195.40" stroke="#cf1233" stroke-width="0.7" stroke-linecap="butt"/>
<line x1="64.70" y1="206.80" x2="70.30" y2="206.80" stroke="#cf1233" stroke-width="0.7" stroke-linecap="butt"/>
<circle cx="40.60" cy="235.30" r="1.05" fill="#1d4190"/>
<circle cx="40.60" cy="237.60" r="1.05" fill="#1d4190"/>
<circle cx="43.60" cy="233.50" r="1.05" fill="#1d4190"/>
<circle cx="45.60" cy="236.20" r="1.05" fill="#1d4190"/>
<circle cx="47.60" cy="235.40" r="1.05" fill="#1d4190"/>
<circle cx="49.60" cy="237.00" r="1.05" fill="#1d4190"/>
<circle cx="52.00" cy="236.60" r="1.05" fill="#1d4190"/>
<rect x="66.45" y="185.35" width="2.1" height="2.1" fill="#cf1233"/>
<rect x="66.45" y="188.75" width="2.1" height="2.1" fill="#cf1233"/>
<rect x="66.45" y="191.55" width="2.1" height="2.1" fill="#cf1233"/>
<rect x="66.45" y="194.35" width="2.1" height="2.1" fill="#cf1233"/>
<rect x="66.45" y="203.35" width="2.1" height="2.1" fill="#cf1233"/>
<rect x="66.45" y="205.75" width="2.1" height="2.1" fill="#cf1233"/>
<rect x="66.45" y="208.75" width="2.1" height="2.1" fill="#cf1233"/>
<rect x="66.45" y="221.55" width="2.1" height="2.1" fill="#cf1233"/>
<path d="M45.60,182.40 V179.80 H67.20 V182.40" fill="none" stroke="#333" stroke-width="0.7"/>
<text transform="translate(56.60,174.80) scale(1,1)" x="0" y="2.29" font-size="6.4" text-anchor="middle" fill="#3a3a3a" stroke="#3a3a3a" stroke-width="0.22" textLength="27.3" lengthAdjust="spacingAndGlyphs"><tspan font-style="italic">P</tspan> = .0022</text>
<text transform="translate(45.80,276.80) scale(0.96,1)" x="0" y="2.22" font-size="6.2" text-anchor="middle" fill="#2b2b2b" stroke="#2b2b2b" stroke-width="0.22">Control</text>
<text transform="translate(67.30,276.80) scale(0.96,1)" x="0" y="2.22" font-size="6.2" text-anchor="middle" fill="#2b2b2b" stroke="#2b2b2b" stroke-width="0.22">Stroke</text>
<path d="M102.30,181.80 C99.80,181.60 96.70,181.20 97.70,178.00 C98.70,174.80 102.90,174.40 104.10,171.20" fill="none" stroke="#858588" stroke-width="1.9" stroke-linecap="round"/><path d="M100.70,184.40 C100.70,177.00 109.30,176.80 115.30,177.60 C120.80,178.40 126.70,181.00 127.90,184.40 C126.70,187.80 120.80,190.40 115.30,191.20 C109.30,192.00 100.70,191.80 100.70,184.40 Z" fill="#29292b"/><ellipse cx="114.90" cy="180.10" rx="4.3" ry="3.1" fill="#bdbdbf" stroke="#29292b" stroke-width="0.5"/><ellipse cx="114.90" cy="188.90" rx="4.3" ry="3.1" fill="#bdbdbf" stroke="#29292b" stroke-width="0.5"/><path d="M124.50,181.20 l3.4,-1.80 M124.50,181.20 l2.4,-3.00 M124.50,181.20 l4.0,-0.40" stroke="#666" stroke-width="0.45" fill="none"/><circle cx="124.30" cy="179.40" r="1.0" fill="#fff" stroke="#666" stroke-width="0.45"/><path d="M124.50,187.60 l3.4,1.80 M124.50,187.60 l2.4,3.00 M124.50,187.60 l4.0,0.40" stroke="#666" stroke-width="0.45" fill="none"/><circle cx="124.30" cy="189.40" r="1.0" fill="#fff" stroke="#666" stroke-width="0.45"/>
<path d="M141.70,182.00 C139.20,181.80 136.10,181.40 137.10,178.20 C138.10,175.00 142.30,174.60 143.50,171.40" fill="none" stroke="#f0b596" stroke-width="1.9" stroke-linecap="round"/><path d="M140.10,184.60 C140.10,177.20 148.70,177.00 154.70,177.80 C160.20,178.60 166.10,181.20 167.30,184.60 C166.10,188.00 160.20,190.60 154.70,191.40 C148.70,192.20 140.10,192.00 140.10,184.60 Z" fill="#dc652b"/><ellipse cx="154.30" cy="180.30" rx="4.3" ry="3.1" fill="#ffffff" stroke="#dc652b" stroke-width="0.5"/><ellipse cx="154.30" cy="189.10" rx="4.3" ry="3.1" fill="#ffffff" stroke="#dc652b" stroke-width="0.5"/><path d="M163.90,181.40 l3.4,-1.80 M163.90,181.40 l2.4,-3.00 M163.90,181.40 l4.0,-0.40" stroke="#e58a5a" stroke-width="0.45" fill="none"/><circle cx="163.70" cy="179.60" r="1.0" fill="#fff" stroke="#e58a5a" stroke-width="0.45"/><path d="M163.90,187.80 l3.4,1.80 M163.90,187.80 l2.4,3.00 M163.90,187.80 l4.0,0.40" stroke="#e58a5a" stroke-width="0.45" fill="none"/><circle cx="163.70" cy="189.60" r="1.0" fill="#fff" stroke="#e58a5a" stroke-width="0.45"/>
<line x1="112.80" y1="193.40" x2="112.80" y2="200.70" stroke="#1a1a1a" stroke-width="0.9" stroke-linecap="butt"/>
<path d="M110.90,200.20 L114.70,200.20 L112.80,203.40 Z" fill="#1a1a1a"/>
<line x1="152.50" y1="193.40" x2="152.50" y2="200.70" stroke="#1a1a1a" stroke-width="0.9" stroke-linecap="butt"/>
<path d="M150.60,200.20 L154.40,200.20 L152.50,203.40 Z" fill="#1a1a1a"/>
<text transform="translate(113.00,207.80) scale(0.96,1)" x="0" y="2.22" font-size="6.2" text-anchor="middle" fill="#2b2b2b" stroke="#2b2b2b" stroke-width="0.22">Sham-stroke</text>
<text transform="translate(113.00,214.80) scale(0.96,1)" x="0" y="2.22" font-size="6.2" text-anchor="middle" fill="#2b2b2b" stroke="#2b2b2b" stroke-width="0.22">surgery</text>
<line x1="112.90" y1="218.60" x2="112.90" y2="222.90" stroke="#1a1a1a" stroke-width="0.9" stroke-linecap="butt"/>
<path d="M111.20,222.40 L114.60,222.40 L112.90,225.20 Z" fill="#1a1a1a"/>
<line x1="152.30" y1="218.60" x2="152.30" y2="222.90" stroke="#1a1a1a" stroke-width="0.9" stroke-linecap="butt"/>
<path d="M150.60,222.40 L154.00,222.40 L152.30,225.20 Z" fill="#1a1a1a"/>
<text transform="translate(152.60,207.80) scale(0.96,1)" x="0" y="2.22" font-size="6.2" text-anchor="middle" fill="#2b2b2b" stroke="#2b2b2b" stroke-width="0.22">Embolic</text>
<text transform="translate(152.60,214.80) scale(0.96,1)" x="0" y="2.22" font-size="6.2" text-anchor="middle" fill="#2b2b2b" stroke="#2b2b2b" stroke-width="0.22">Stroke</text>
<rect x="95.20" y="225.50" width="74.80" height="17.30" fill="#fff" stroke="#444" stroke-width="0.6"/>
<text transform="translate(132.60,230.60) scale(0.96,1)" x="0" y="2.22" font-size="6.2" text-anchor="middle" fill="#2b2b2b" stroke="#2b2b2b" stroke-width="0.22">IVC stenosis (DVT)</text>
<text transform="translate(132.60,238.30) scale(0.96,1)" x="0" y="2.22" font-size="6.2" text-anchor="middle" fill="#2b2b2b" stroke="#2b2b2b" stroke-width="0.22">(1-hour post-stroke)</text>
<text transform="translate(111.80,248.60) scale(0.96,1)" x="0" y="2.22" font-size="6.2" text-anchor="middle" fill="#2b2b2b" stroke="#2b2b2b" stroke-width="0.22">DVT</text>
<text transform="translate(152.60,248.60) scale(0.96,1)" x="0" y="2.22" font-size="6.2" text-anchor="middle" fill="#2b2b2b" stroke="#2b2b2b" stroke-width="0.22">Stroke-DVT</text>
<line x1="112.80" y1="252.40" x2="112.80" y2="257.50" stroke="#1a1a1a" stroke-width="0.9" stroke-linecap="butt"/>
<path d="M111.10,257.00 L114.50,257.00 L112.80,259.80 Z" fill="#1a1a1a"/>
<line x1="152.50" y1="252.40" x2="152.50" y2="257.50" stroke="#1a1a1a" stroke-width="0.9" stroke-linecap="butt"/>
<path d="M150.80,257.00 L154.20,257.00 L152.50,259.80 Z" fill="#1a1a1a"/>
<rect x="95.20" y="260.30" width="74.80" height="17.00" fill="#fff" stroke="#444" stroke-width="0.6"/>
<text transform="translate(132.60,264.80) scale(0.96,1)" x="0" y="2.22" font-size="6.2" text-anchor="middle" fill="#2b2b2b" stroke="#2b2b2b" stroke-width="0.22">IVC thrombus weight</text>
<text transform="translate(132.60,272.30) scale(0.96,1)" x="0" y="2.22" font-size="6.2" text-anchor="middle" fill="#2b2b2b" stroke="#2b2b2b" stroke-width="0.22">(48-hour post-surgery)</text>
<rect x="182.80" y="181.80" width="31.80" height="41.40" fill="#fbfbfc" stroke="#1c1c1c" stroke-width="1.1"/>
<rect x="202.40" y="182.40" width="11.60" height="40.20" fill="#f6f6f8" stroke="none" stroke-width="0.6"/>
<rect x="202.40" y="182.40" width="3.40" height="40.20" fill="#e4e4e9" stroke="none" stroke-width="0.6"/>
<line x1="214.50" y1="182.60" x2="214.50" y2="222.40" stroke="#8a8a8a" stroke-width="0.7" stroke-linecap="butt"/>
<line x1="185.30" y1="185.40" x2="191.40" y2="185.40" stroke="#3a3a3a" stroke-width="0.6" stroke-linecap="butt"/>
<line x1="185.30" y1="188.95" x2="191.40" y2="188.95" stroke="#3a3a3a" stroke-width="0.6" stroke-linecap="butt"/>
<line x1="185.30" y1="192.50" x2="191.40" y2="192.50" stroke="#3a3a3a" stroke-width="0.6" stroke-linecap="butt"/>
<line x1="185.30" y1="196.05" x2="191.40" y2="196.05" stroke="#3a3a3a" stroke-width="0.6" stroke-linecap="butt"/>
<line x1="185.30" y1="199.60" x2="191.40" y2="199.60" stroke="#3a3a3a" stroke-width="0.6" stroke-linecap="butt"/>
<line x1="185.30" y1="203.15" x2="196.40" y2="203.15" stroke="#3a3a3a" stroke-width="0.6" stroke-linecap="butt"/>
<line x1="185.30" y1="206.70" x2="191.40" y2="206.70" stroke="#3a3a3a" stroke-width="0.6" stroke-linecap="butt"/>
<line x1="185.30" y1="210.25" x2="191.40" y2="210.25" stroke="#3a3a3a" stroke-width="0.6" stroke-linecap="butt"/>
<line x1="185.30" y1="213.80" x2="191.40" y2="213.80" stroke="#3a3a3a" stroke-width="0.6" stroke-linecap="butt"/>
<line x1="185.30" y1="217.35" x2="191.40" y2="217.35" stroke="#3a3a3a" stroke-width="0.6" stroke-linecap="butt"/>
<line x1="202.40" y1="182.40" x2="202.40" y2="222.60" stroke="#b0b0b8" stroke-width="0.6" stroke-linecap="butt"/>
<text transform="translate(195.20,193.80) rotate(90) scale(0.9,1)" x="0" y="0" font-size="7" text-anchor="middle" fill="#333">CM</text>
<line x1="196.00" y1="217.30" x2="199.80" y2="217.30" stroke="#1a1a1a" stroke-width="0.9" stroke-linecap="butt"/>
<line x1="199.40" y1="215.80" x2="199.40" y2="218.60" stroke="#1a1a1a" stroke-width="0.8" stroke-linecap="butt"/>
<path d="M206.0,185.6 C207.0,184.0 209.8,184.2 210.8,186.0 C212.4,188.8 212.8,193.0 212.6,197.4 C212.4,200.8 211.4,202.8 209.8,202.6 C207.8,202.4 207.2,199.6 206.8,196.4 C206.4,192.6 205.2,188.4 206.0,185.6 Z" fill="#3a1030"/>
<path d="M208.0,187 C209.6,188.8 210.6,192 210.4,197.0" stroke="#8a3a6a" stroke-width="0.8" fill="none"/>
<text transform="translate(199.00,176.80) scale(0.96,1)" x="0" y="2.22" font-size="6.2" text-anchor="middle" fill="#333" stroke="#333" stroke-width="0.22">DVT</text>
<rect x="183.20" y="234.80" width="31.40" height="42.40" fill="#fbfbfc" stroke="#1c1c1c" stroke-width="1.1"/>
<rect x="202.80" y="235.40" width="11.20" height="41.20" fill="#f6f6f8" stroke="none" stroke-width="0.6"/>
<rect x="202.80" y="235.40" width="3.40" height="41.20" fill="#e4e4e9" stroke="none" stroke-width="0.6"/>
<line x1="214.50" y1="235.60" x2="214.50" y2="276.40" stroke="#8a8a8a" stroke-width="0.7" stroke-linecap="butt"/>
<line x1="185.70" y1="238.40" x2="191.80" y2="238.40" stroke="#3a3a3a" stroke-width="0.6" stroke-linecap="butt"/>
<line x1="185.70" y1="241.95" x2="191.80" y2="241.95" stroke="#3a3a3a" stroke-width="0.6" stroke-linecap="butt"/>
<line x1="185.70" y1="245.50" x2="191.80" y2="245.50" stroke="#3a3a3a" stroke-width="0.6" stroke-linecap="butt"/>
<line x1="185.70" y1="249.05" x2="191.80" y2="249.05" stroke="#3a3a3a" stroke-width="0.6" stroke-linecap="butt"/>
<line x1="185.70" y1="252.60" x2="191.80" y2="252.60" stroke="#3a3a3a" stroke-width="0.6" stroke-linecap="butt"/>
<line x1="185.70" y1="256.15" x2="196.80" y2="256.15" stroke="#3a3a3a" stroke-width="0.6" stroke-linecap="butt"/>
<line x1="185.70" y1="259.70" x2="191.80" y2="259.70" stroke="#3a3a3a" stroke-width="0.6" stroke-linecap="butt"/>
<line x1="185.70" y1="263.25" x2="191.80" y2="263.25" stroke="#3a3a3a" stroke-width="0.6" stroke-linecap="butt"/>
<line x1="185.70" y1="266.80" x2="191.80" y2="266.80" stroke="#3a3a3a" stroke-width="0.6" stroke-linecap="butt"/>
<line x1="185.70" y1="270.35" x2="191.80" y2="270.35" stroke="#3a3a3a" stroke-width="0.6" stroke-linecap="butt"/>
<line x1="202.80" y1="235.40" x2="202.80" y2="276.60" stroke="#b0b0b8" stroke-width="0.6" stroke-linecap="butt"/>
<text transform="translate(195.60,246.80) rotate(90) scale(0.9,1)" x="0" y="0" font-size="7" text-anchor="middle" fill="#333">CM</text>
<line x1="196.40" y1="271.30" x2="200.20" y2="271.30" stroke="#1a1a1a" stroke-width="0.9" stroke-linecap="butt"/>
<line x1="199.80" y1="269.80" x2="199.80" y2="272.60" stroke="#1a1a1a" stroke-width="0.8" stroke-linecap="butt"/>
<path d="M207.4,239.0 C208.6,237.6 210.6,238.2 211.0,240.4 C211.8,245.0 211.8,252.0 211.4,258.0 C211.0,264.0 210.6,270.0 209.6,272.8 C208.8,274.4 207.2,273.8 206.8,271.6 C206.2,267.0 206.4,260.0 206.6,254.0 C206.8,248.0 206.6,242.0 207.4,239.0 Z" fill="#6a1a2a"/>
<path d="M208.8,240 C209.8,246 209.8,252 209.2,259" stroke="#2a0a1a" stroke-width="1.8" fill="none"/>
<path d="M208.8,261 C208.8,265 208.6,269 208.2,272" stroke="#b02030" stroke-width="1.4" fill="none"/>
<text transform="translate(200.40,230.80) scale(0.96,1)" x="0" y="2.22" font-size="6.2" text-anchor="middle" fill="#333" stroke="#333" stroke-width="0.22">Stroke-DVT</text>
<line x1="252.30" y1="177.60" x2="252.30" y2="268.30" stroke="#1a1a1a" stroke-width="1.0" stroke-linecap="butt"/>
<line x1="251.80" y1="267.80" x2="304.00" y2="267.80" stroke="#1a1a1a" stroke-width="1.0" stroke-linecap="butt"/>
<line x1="249.30" y1="180.40" x2="252.30" y2="180.40" stroke="#1a1a1a" stroke-width="0.9" stroke-linecap="butt"/>
<text transform="translate(247.70,180.40) scale(0.96,1)" x="0" y="2.22" font-size="6.2" text-anchor="end" fill="#2b2b2b" stroke="#2b2b2b" stroke-width="0.22">40</text>
<line x1="249.30" y1="202.30" x2="252.30" y2="202.30" stroke="#1a1a1a" stroke-width="0.9" stroke-linecap="butt"/>
<text transform="translate(247.70,202.30) scale(0.96,1)" x="0" y="2.22" font-size="6.2" text-anchor="end" fill="#2b2b2b" stroke="#2b2b2b" stroke-width="0.22">30</text>
<line x1="249.30" y1="224.20" x2="252.30" y2="224.20" stroke="#1a1a1a" stroke-width="0.9" stroke-linecap="butt"/>
<text transform="translate(247.70,224.20) scale(0.96,1)" x="0" y="2.22" font-size="6.2" text-anchor="end" fill="#2b2b2b" stroke="#2b2b2b" stroke-width="0.22">20</text>
<line x1="249.30" y1="246.00" x2="252.30" y2="246.00" stroke="#1a1a1a" stroke-width="0.9" stroke-linecap="butt"/>
<text transform="translate(247.70,246.00) scale(0.96,1)" x="0" y="2.22" font-size="6.2" text-anchor="end" fill="#2b2b2b" stroke="#2b2b2b" stroke-width="0.22">10</text>
<line x1="249.30" y1="267.80" x2="252.30" y2="267.80" stroke="#1a1a1a" stroke-width="0.9" stroke-linecap="butt"/>
<text transform="translate(247.70,267.80) scale(0.96,1)" x="0" y="2.22" font-size="6.2" text-anchor="end" fill="#2b2b2b" stroke="#2b2b2b" stroke-width="0.22">0</text>
<line x1="268.50" y1="267.80" x2="268.50" y2="270.20" stroke="#1a1a1a" stroke-width="0.9" stroke-linecap="butt"/>
<line x1="290.00" y1="267.80" x2="290.00" y2="270.20" stroke="#1a1a1a" stroke-width="0.9" stroke-linecap="butt"/>
<text transform="translate(234.60,222.50) rotate(-90) scale(1,1)" x="0" y="2.51" font-size="7.0" text-anchor="middle" fill="#2b2b2b" stroke="#2b2b2b" stroke-width="0.22" textLength="57.8" lengthAdjust="spacingAndGlyphs">Thrombus weight (mg)</text>
<rect x="261.80" y="243.60" width="13.40" height="24.20" fill="#8ea2cf" stroke="#5877b8" stroke-width="0.5"/>
<rect x="283.40" y="231.90" width="13.20" height="35.90" fill="#e9897d" stroke="#de5a52" stroke-width="0.5"/>
<line x1="268.50" y1="238.00" x2="268.50" y2="249.20" stroke="#1d4190" stroke-width="0.7" stroke-linecap="butt"/>
<line x1="265.10" y1="238.00" x2="271.90" y2="238.00" stroke="#1d4190" stroke-width="0.7" stroke-linecap="butt"/>
<line x1="265.10" y1="249.20" x2="271.90" y2="249.20" stroke="#1d4190" stroke-width="0.7" stroke-linecap="butt"/>
<line x1="290.00" y1="227.00" x2="290.00" y2="236.80" stroke="#cf1233" stroke-width="0.7" stroke-linecap="butt"/>
<line x1="286.60" y1="227.00" x2="293.40" y2="227.00" stroke="#cf1233" stroke-width="0.7" stroke-linecap="butt"/>
<line x1="286.60" y1="236.80" x2="293.40" y2="236.80" stroke="#cf1233" stroke-width="0.7" stroke-linecap="butt"/>
<circle cx="268.00" cy="205.30" r="1.1" fill="#1d4190"/>
<circle cx="264.20" cy="234.60" r="1.1" fill="#1d4190"/>
<circle cx="268.40" cy="235.40" r="1.1" fill="#1d4190"/>
<circle cx="272.60" cy="234.00" r="1.1" fill="#1d4190"/>
<circle cx="269.60" cy="242.60" r="1.1" fill="#1d4190"/>
<circle cx="265.60" cy="246.00" r="1.1" fill="#1d4190"/>
<circle cx="270.40" cy="248.00" r="1.1" fill="#1d4190"/>
<circle cx="267.00" cy="251.60" r="1.1" fill="#1d4190"/>
<circle cx="271.20" cy="254.60" r="1.1" fill="#1d4190"/>
<circle cx="266.00" cy="259.00" r="1.1" fill="#1d4190"/>
<circle cx="270.60" cy="257.40" r="1.1" fill="#1d4190"/>
<rect x="288.90" y="198.20" width="2.2" height="2.2" fill="#cf1233"/>
<rect x="288.90" y="203.70" width="2.2" height="2.2" fill="#cf1233"/>
<rect x="288.90" y="208.70" width="2.2" height="2.2" fill="#cf1233"/>
<rect x="286.30" y="213.10" width="2.2" height="2.2" fill="#cf1233"/>
<rect x="291.50" y="212.50" width="2.2" height="2.2" fill="#cf1233"/>
<rect x="286.90" y="231.30" width="2.2" height="2.2" fill="#cf1233"/>
<rect x="290.90" y="232.30" width="2.2" height="2.2" fill="#cf1233"/>
<rect x="285.50" y="235.50" width="2.2" height="2.2" fill="#cf1233"/>
<rect x="288.90" y="237.50" width="2.2" height="2.2" fill="#cf1233"/>
<rect x="292.30" y="238.50" width="2.2" height="2.2" fill="#cf1233"/>
<rect x="286.90" y="242.50" width="2.2" height="2.2" fill="#cf1233"/>
<rect x="290.70" y="243.30" width="2.2" height="2.2" fill="#cf1233"/>
<rect x="285.70" y="246.30" width="2.2" height="2.2" fill="#cf1233"/>
<rect x="291.90" y="247.30" width="2.2" height="2.2" fill="#cf1233"/>
<rect x="288.90" y="250.50" width="2.2" height="2.2" fill="#cf1233"/>
<rect x="288.90" y="254.50" width="2.2" height="2.2" fill="#cf1233"/>
<path d="M268.50,195.40 V192.80 H289.60 V195.40" fill="none" stroke="#333" stroke-width="0.7"/>
<text transform="translate(279.80,187.90) scale(1,1)" x="0" y="2.29" font-size="6.4" text-anchor="middle" fill="#3a3a3a" stroke="#3a3a3a" stroke-width="0.22" textLength="27.3" lengthAdjust="spacingAndGlyphs"><tspan font-style="italic">P</tspan> = .0453</text>
<text transform="translate(269.50,275.20) rotate(-45) scale(0.88,1)" x="0" y="2.22" font-size="6.2" text-anchor="end" fill="#2b2b2b" stroke="#2b2b2b" stroke-width="0.22">DVT</text>
<text transform="translate(291.10,275.20) rotate(-45) scale(0.88,1)" x="0" y="2.22" font-size="6.2" text-anchor="end" fill="#2b2b2b" stroke="#2b2b2b" stroke-width="0.22">Stroke-DVT</text>
<rect x="348.80" y="161.70" width="7.20" height="3.50" fill="#3aaa35" stroke="none" stroke-width="0.6"/>
<text transform="translate(358.80,163.40) scale(0.96,1)" x="0" y="2.22" font-size="6.2" text-anchor="start" fill="#2b2b2b" stroke="#2b2b2b" stroke-width="0.22">No-thrombus</text>
<rect x="348.80" y="170.10" width="7.20" height="3.50" fill="#f39200" stroke="none" stroke-width="0.6"/>
<text transform="translate(358.80,171.80) scale(0.96,1)" x="0" y="2.22" font-size="6.2" text-anchor="start" fill="#2b2b2b" stroke="#2b2b2b" stroke-width="0.22">Thrombus</text>
<line x1="346.20" y1="178.40" x2="346.20" y2="268.50" stroke="#1a1a1a" stroke-width="1.0" stroke-linecap="butt"/>
<line x1="345.70" y1="268.00" x2="396.60" y2="268.00" stroke="#1a1a1a" stroke-width="1.0" stroke-linecap="butt"/>
<line x1="343.20" y1="180.60" x2="346.20" y2="180.60" stroke="#1a1a1a" stroke-width="0.9" stroke-linecap="butt"/>
<text transform="translate(341.60,180.60) scale(0.96,1)" x="0" y="2.22" font-size="6.2" text-anchor="end" fill="#2b2b2b" stroke="#2b2b2b" stroke-width="0.22">120</text>
<line x1="343.20" y1="195.30" x2="346.20" y2="195.30" stroke="#1a1a1a" stroke-width="0.9" stroke-linecap="butt"/>
<text transform="translate(341.60,195.30) scale(0.96,1)" x="0" y="2.22" font-size="6.2" text-anchor="end" fill="#2b2b2b" stroke="#2b2b2b" stroke-width="0.22">100</text>
<line x1="343.20" y1="210.00" x2="346.20" y2="210.00" stroke="#1a1a1a" stroke-width="0.9" stroke-linecap="butt"/>
<text transform="translate(341.60,210.00) scale(0.96,1)" x="0" y="2.22" font-size="6.2" text-anchor="end" fill="#2b2b2b" stroke="#2b2b2b" stroke-width="0.22">80</text>
<line x1="343.20" y1="224.40" x2="346.20" y2="224.40" stroke="#1a1a1a" stroke-width="0.9" stroke-linecap="butt"/>
<text transform="translate(341.60,224.40) scale(0.96,1)" x="0" y="2.22" font-size="6.2" text-anchor="end" fill="#2b2b2b" stroke="#2b2b2b" stroke-width="0.22">60</text>
<line x1="343.20" y1="238.90" x2="346.20" y2="238.90" stroke="#1a1a1a" stroke-width="0.9" stroke-linecap="butt"/>
<text transform="translate(341.60,238.90) scale(0.96,1)" x="0" y="2.22" font-size="6.2" text-anchor="end" fill="#2b2b2b" stroke="#2b2b2b" stroke-width="0.22">40</text>
<line x1="343.20" y1="253.40" x2="346.20" y2="253.40" stroke="#1a1a1a" stroke-width="0.9" stroke-linecap="butt"/>
<text transform="translate(341.60,253.40) scale(0.96,1)" x="0" y="2.22" font-size="6.2" text-anchor="end" fill="#2b2b2b" stroke="#2b2b2b" stroke-width="0.22">20</text>
<line x1="343.20" y1="268.00" x2="346.20" y2="268.00" stroke="#1a1a1a" stroke-width="0.9" stroke-linecap="butt"/>
<text transform="translate(341.60,268.00) scale(0.96,1)" x="0" y="2.22" font-size="6.2" text-anchor="end" fill="#2b2b2b" stroke="#2b2b2b" stroke-width="0.22">0</text>
<line x1="361.00" y1="268.00" x2="361.00" y2="270.40" stroke="#1a1a1a" stroke-width="0.9" stroke-linecap="butt"/>
<line x1="382.50" y1="268.00" x2="382.50" y2="270.40" stroke="#1a1a1a" stroke-width="0.9" stroke-linecap="butt"/>
<text transform="translate(322.50,220.20) rotate(-90) scale(1,1)" x="0" y="2.51" font-size="7.0" text-anchor="middle" fill="#2b2b2b" stroke="#2b2b2b" stroke-width="0.22" textLength="69.1" lengthAdjust="spacingAndGlyphs">Thrombosis incidence (%)</text>
<rect x="354.40" y="195.30" width="13.20" height="33.30" fill="#3aaa35" stroke="none" stroke-width="0.6"/>
<rect x="354.40" y="228.60" width="13.20" height="39.40" fill="#f39200" stroke="none" stroke-width="0.6"/>
<rect x="375.90" y="195.30" width="13.20" height="7.90" fill="#3aaa35" stroke="none" stroke-width="0.6"/>
<rect x="375.90" y="203.20" width="13.20" height="64.80" fill="#f39200" stroke="none" stroke-width="0.6"/>
<path d="M360.90,191.20 V188.60 H382.40 V191.20" fill="none" stroke="#333" stroke-width="0.7"/>
<text transform="translate(371.60,183.80) scale(1,1)" x="0" y="2.29" font-size="6.4" text-anchor="middle" fill="#3a3a3a" stroke="#3a3a3a" stroke-width="0.22" textLength="20.0" lengthAdjust="spacingAndGlyphs"><tspan font-style="italic">P</tspan> = .03</text>
<text transform="translate(362.30,275.20) rotate(-45) scale(0.88,1)" x="0" y="2.22" font-size="6.2" text-anchor="end" fill="#2b2b2b" stroke="#2b2b2b" stroke-width="0.22">DVT</text>
<text transform="translate(383.90,275.20) rotate(-45) scale(0.88,1)" x="0" y="2.22" font-size="6.2" text-anchor="end" fill="#2b2b2b" stroke="#2b2b2b" stroke-width="0.22">Stroke-DVT</text>
<line x1="431.50" y1="177.60" x2="431.50" y2="268.50" stroke="#1a1a1a" stroke-width="1.0" stroke-linecap="butt"/>
<line x1="431.00" y1="268.00" x2="513.20" y2="268.00" stroke="#1a1a1a" stroke-width="1.0" stroke-linecap="butt"/>
<line x1="428.50" y1="179.80" x2="431.50" y2="179.80" stroke="#1a1a1a" stroke-width="0.9" stroke-linecap="butt"/>
<text transform="translate(426.90,179.80) scale(0.96,1)" x="0" y="2.22" font-size="6.2" text-anchor="end" fill="#2b2b2b" stroke="#2b2b2b" stroke-width="0.22">6</text>
<line x1="428.50" y1="209.70" x2="431.50" y2="209.70" stroke="#1a1a1a" stroke-width="0.9" stroke-linecap="butt"/>
<text transform="translate(426.90,209.70) scale(0.96,1)" x="0" y="2.22" font-size="6.2" text-anchor="end" fill="#2b2b2b" stroke="#2b2b2b" stroke-width="0.22">4</text>
<line x1="428.50" y1="238.60" x2="431.50" y2="238.60" stroke="#1a1a1a" stroke-width="0.9" stroke-linecap="butt"/>
<text transform="translate(426.90,238.60) scale(0.96,1)" x="0" y="2.22" font-size="6.2" text-anchor="end" fill="#2b2b2b" stroke="#2b2b2b" stroke-width="0.22">2</text>
<line x1="428.50" y1="268.00" x2="431.50" y2="268.00" stroke="#1a1a1a" stroke-width="0.9" stroke-linecap="butt"/>
<text transform="translate(426.90,268.00) scale(0.96,1)" x="0" y="2.22" font-size="6.2" text-anchor="end" fill="#2b2b2b" stroke="#2b2b2b" stroke-width="0.22">0</text>
<line x1="444.10" y1="268.00" x2="444.10" y2="270.40" stroke="#1a1a1a" stroke-width="0.9" stroke-linecap="butt"/>
<line x1="463.20" y1="268.00" x2="463.20" y2="270.40" stroke="#1a1a1a" stroke-width="0.9" stroke-linecap="butt"/>
<line x1="481.80" y1="268.00" x2="481.80" y2="270.40" stroke="#1a1a1a" stroke-width="0.9" stroke-linecap="butt"/>
<line x1="500.60" y1="268.00" x2="500.60" y2="270.40" stroke="#1a1a1a" stroke-width="0.9" stroke-linecap="butt"/>
<text transform="translate(414.90,222.70) rotate(-90) scale(1,1)" x="0" y="2.51" font-size="7.0" text-anchor="middle" fill="#2b2b2b" stroke="#2b2b2b" stroke-width="0.22" textLength="70.6" lengthAdjust="spacingAndGlyphs">Neutrophil α9 (fold change)</text>
<rect x="438.20" y="254.20" width="11.80" height="13.80" fill="#8ea2cf" stroke="#5877b8" stroke-width="0.5"/>
<rect x="457.40" y="230.70" width="11.70" height="37.30" fill="#8ea2cf" stroke="#5877b8" stroke-width="0.5"/>
<rect x="475.90" y="254.20" width="11.70" height="13.80" fill="#e9897d" stroke="#de5a52" stroke-width="0.5"/>
<rect x="494.70" y="224.20" width="11.80" height="43.80" fill="#e9897d" stroke="#de5a52" stroke-width="0.5"/>
<line x1="444.10" y1="249.60" x2="444.10" y2="258.60" stroke="#1d4190" stroke-width="0.7" stroke-linecap="butt"/>
<line x1="441.10" y1="249.60" x2="447.10" y2="249.60" stroke="#1d4190" stroke-width="0.7" stroke-linecap="butt"/>
<line x1="441.10" y1="258.60" x2="447.10" y2="258.60" stroke="#1d4190" stroke-width="0.7" stroke-linecap="butt"/>
<line x1="463.20" y1="218.00" x2="463.20" y2="243.00" stroke="#1d4190" stroke-width="0.7" stroke-linecap="butt"/>
<line x1="460.20" y1="218.00" x2="466.20" y2="218.00" stroke="#1d4190" stroke-width="0.7" stroke-linecap="butt"/>
<line x1="460.20" y1="243.00" x2="466.20" y2="243.00" stroke="#1d4190" stroke-width="0.7" stroke-linecap="butt"/>
<line x1="481.80" y1="249.40" x2="481.80" y2="258.80" stroke="#cf1233" stroke-width="0.7" stroke-linecap="butt"/>
<line x1="478.80" y1="249.40" x2="484.80" y2="249.40" stroke="#cf1233" stroke-width="0.7" stroke-linecap="butt"/>
<line x1="478.80" y1="258.80" x2="484.80" y2="258.80" stroke="#cf1233" stroke-width="0.7" stroke-linecap="butt"/>
<line x1="500.60" y1="219.40" x2="500.60" y2="229.00" stroke="#cf1233" stroke-width="0.7" stroke-linecap="butt"/>
<line x1="497.60" y1="219.40" x2="503.60" y2="219.40" stroke="#cf1233" stroke-width="0.7" stroke-linecap="butt"/>
<line x1="497.60" y1="229.00" x2="503.60" y2="229.00" stroke="#cf1233" stroke-width="0.7" stroke-linecap="butt"/>
<circle cx="444.10" cy="241.60" r="1.1" fill="#1d4190"/>
<circle cx="442.00" cy="257.60" r="1.1" fill="#1d4190"/>
<circle cx="446.20" cy="257.60" r="1.1" fill="#1d4190"/>
<circle cx="444.10" cy="260.20" r="1.1" fill="#1d4190"/>
<circle cx="441.60" cy="260.60" r="1.1" fill="#1d4190"/>
<circle cx="463.20" cy="198.40" r="1.1" fill="#1d4190"/>
<circle cx="463.20" cy="226.30" r="1.1" fill="#1d4190"/>
<circle cx="463.20" cy="246.20" r="1.1" fill="#1d4190"/>
<circle cx="463.20" cy="250.20" r="1.1" fill="#1d4190"/>
<circle cx="481.80" cy="241.00" r="1.1" fill="#cf1233"/>
<circle cx="480.00" cy="256.00" r="1.1" fill="#cf1233"/>
<circle cx="483.80" cy="256.60" r="1.1" fill="#cf1233"/>
<circle cx="481.80" cy="259.80" r="1.1" fill="#cf1233"/>
<circle cx="479.60" cy="260.60" r="1.1" fill="#cf1233"/>
<circle cx="498.70" cy="213.50" r="1.1" fill="#cf1233"/>
<circle cx="503.00" cy="212.20" r="1.1" fill="#cf1233"/>
<circle cx="500.60" cy="216.50" r="1.1" fill="#cf1233"/>
<circle cx="499.00" cy="229.20" r="1.1" fill="#cf1233"/>
<circle cx="503.00" cy="228.20" r="1.1" fill="#cf1233"/>
<circle cx="501.00" cy="231.60" r="1.1" fill="#cf1233"/>
<circle cx="498.50" cy="236.10" r="1.1" fill="#cf1233"/>
<circle cx="503.00" cy="234.10" r="1.1" fill="#cf1233"/>
<path d="M444.00,237.60 V192.20 H463.30 V195.40" fill="none" stroke="#3c3c48" stroke-width="0.7"/>
<path d="M481.60,237.60 V192.20 H500.60 V208.60" fill="none" stroke="#3c3c48" stroke-width="0.7"/>
<text transform="translate(454.20,186.60) scale(1,1)" x="0" y="2.29" font-size="6.4" text-anchor="middle" fill="#3a3a3a" stroke="#3a3a3a" stroke-width="0.22" textLength="27.3" lengthAdjust="spacingAndGlyphs"><tspan font-style="italic">P</tspan> = .1106</text>
<text transform="translate(491.60,186.60) scale(1,1)" x="0" y="2.29" font-size="6.4" text-anchor="middle" fill="#3a3a3a" stroke="#3a3a3a" stroke-width="0.22" textLength="27.3" lengthAdjust="spacingAndGlyphs"><tspan font-style="italic">P</tspan> = .0270</text>
<text transform="translate(445.10,275.40) rotate(-45) scale(0.88,1)" x="0" y="2.22" font-size="6.2" text-anchor="end" fill="#2b2b2b" stroke="#2b2b2b" stroke-width="0.22">Control</text>
<text transform="translate(464.30,275.40) rotate(-45) scale(0.88,1)" x="0" y="2.22" font-size="6.2" text-anchor="end" fill="#2b2b2b" stroke="#2b2b2b" stroke-width="0.22">DVT</text>
<text transform="translate(482.90,275.40) rotate(-45) scale(0.88,1)" x="0" y="2.22" font-size="6.2" text-anchor="end" fill="#2b2b2b" stroke="#2b2b2b" stroke-width="0.22">Control</text>
<text transform="translate(501.50,275.40) rotate(-45) scale(0.88,1)" x="0" y="2.22" font-size="6.2" text-anchor="end" fill="#2b2b2b" stroke="#2b2b2b" stroke-width="0.22">Stroke-DVT</text>
<rect x="0.5" y="0.4" width="519" height="305.2" fill="none" stroke="#606060" stroke-width="1"/>
<rect x="0" y="304.7" width="520" height="1.3" fill="#454545"/>
</svg></body></html>
